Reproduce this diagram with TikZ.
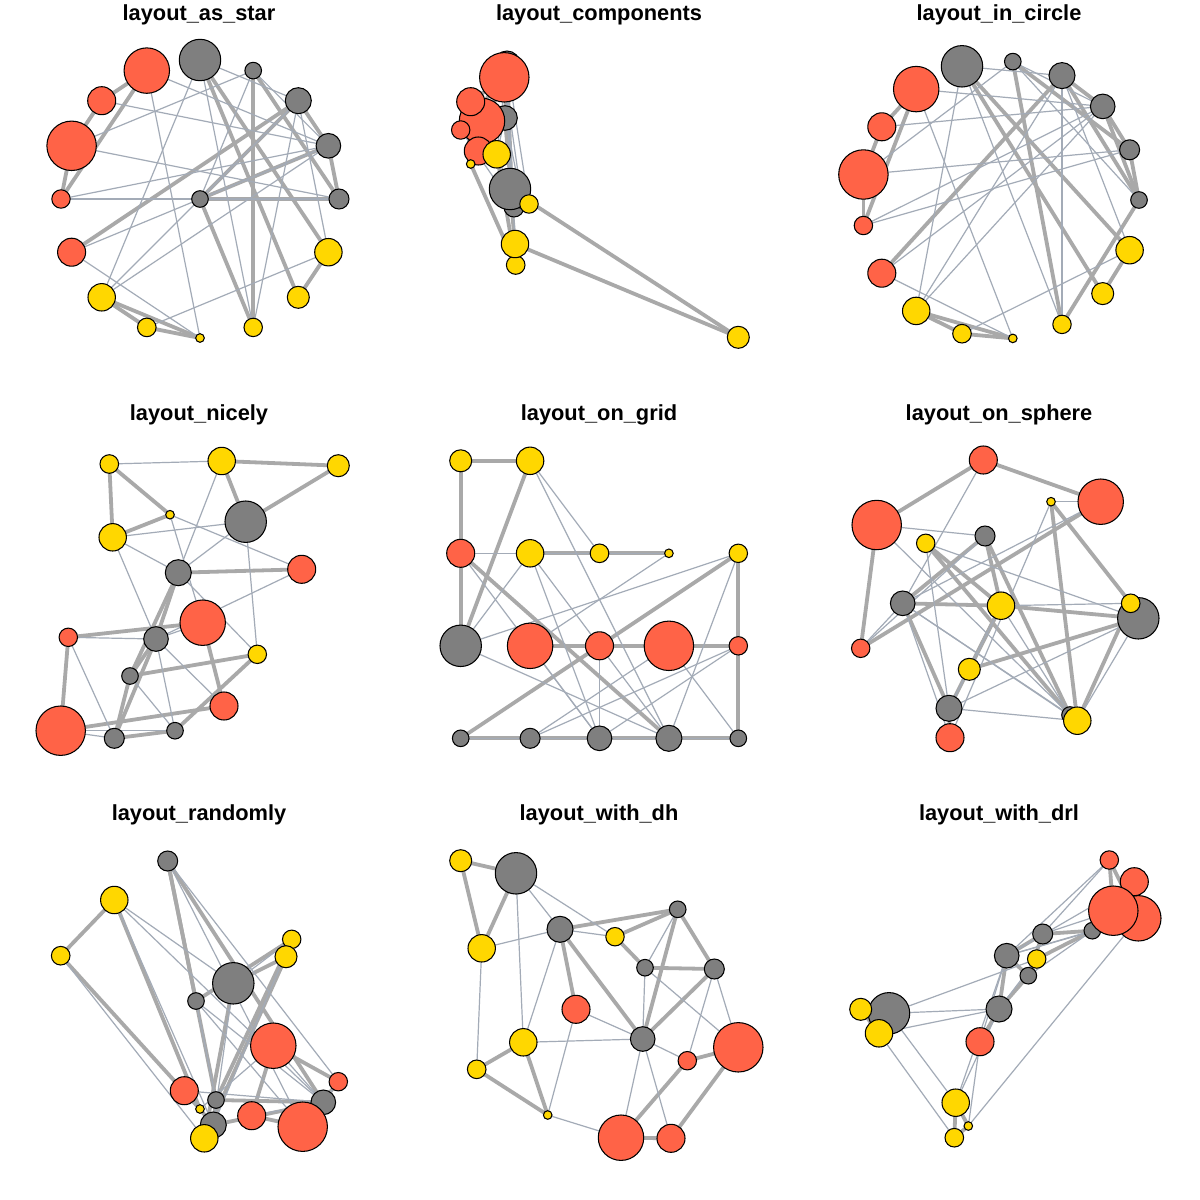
\documentclass[tikz,border=0pt]{standalone}
\usepackage{fontspec}
\setmainfont{Liberation Sans}
\definecolor{vred}{HTML}{FF6347}
\definecolor{vgold}{HTML}{FFD700}
\definecolor{vgray}{HTML}{7F7F7F}
\definecolor{ethickc}{HTML}{A9A9A9}
\definecolor{ethinc}{HTML}{A3ABB7}
\pgfdeclarelayer{bglayer}
\pgfdeclarelayer{edgelayer}
\pgfsetlayers{bglayer,edgelayer,main}
\tikzset{
 vtx/.style={circle,draw=black,line width=0.3pt,inner sep=0pt,outer sep=0pt},
 vx1/.style={vtx,fill=vgray,minimum size=1.66mm},
 vx2/.style={vtx,fill=vgray,minimum size=2.0mm},
 vx3/.style={vtx,fill=vgray,minimum size=2.46mm},
 vx4/.style={vtx,fill=vgray,minimum size=2.6mm},
 vx5/.style={vtx,fill=vgray,minimum size=1.66mm},
 vx6/.style={vtx,fill=vgray,minimum size=4.14mm},
 vx7/.style={vtx,fill=vred,minimum size=4.54mm},
 vx8/.style={vtx,fill=vred,minimum size=2.8mm},
 vx9/.style={vtx,fill=vred,minimum size=4.94mm},
 vx10/.style={vtx,fill=vred,minimum size=1.84mm},
 vx11/.style={vtx,fill=vred,minimum size=2.8mm},
 vx12/.style={vtx,fill=vgold,minimum size=2.74mm},
 vx13/.style={vtx,fill=vgold,minimum size=1.86mm},
 vx14/.style={vtx,fill=vgold,minimum size=0.86mm},
 vx15/.style={vtx,fill=vgold,minimum size=1.84mm},
 vx16/.style={vtx,fill=vgold,minimum size=2.2mm},
 vx17/.style={vtx,fill=vgold,minimum size=2.74mm},
 ethk/.style={draw=ethickc,line width=0.38mm},
 ethn/.style={draw=ethinc,line width=0.12mm},
 ttl/.style={anchor=base,inner sep=0pt,font=\fontsize{6.2pt}{7.5pt}\selectfont\bfseries}
}
\newcommand\pnl[2]{\foreach \x/\y [count=\k] in {#2}{\edef\pnltmp{\noexpand\node[vx\k] (#1\k) at (\x,\y) {};}\pnltmp}}
\begin{document}
\begin{tikzpicture}[x=0.01cm,y=-0.01cm]
\begin{pgfonlayer}{bglayer}
\fill[white] (0,0) rectangle (1200,1200);
\end{pgfonlayer}
\useasboundingbox (0,0) rectangle (1200,1200);
% titles
\node[ttl] (ta) at (199,20) {layout\_as\_star};
\node[ttl] (tb) at (599,20) {layout\_components};
\node[ttl] (tc) at (999,20) {layout\_in\_circle};
\node[ttl] (td) at (199,420) {layout\_nicely};
\node[ttl] (te) at (599,420) {layout\_on\_grid};
\node[ttl] (tf) at (999,420) {layout\_on\_sphere};
\node[ttl] (tg) at (199,820) {layout\_randomly};
\node[ttl] (th) at (599,820) {layout\_with\_dh};
\node[ttl] (ti) at (999,820) {layout\_with\_drl};
% panels
\pnl{a}{200/199, 339/199, 328.4/145.8, 298.3/100.7, 253.2/70.6, 200/60, 146.8/70.6, 101.7/100.7, 71.6/145.8, 61/199, 71.6/252.2, 101.7/297.3, 146.8/327.4, 200/338, 253.2/327.4, 298.3/297.3, 328.4/252.2}
\pnl{b}{512/200, 514/207, 505/118, 507/64, 522/200, 510/189, 482/121, 470.7/101.7, 504.3/77.3, 460.7/130, 478.3/151, 496.7/154.3, 515.7/265, 470.7/164, 529/204, 738.3/337.3, 515/244}
\pnl{c}{1139/200, 1129.6/149.8, 1102.7/106.4, 1062/75.6, 1012.8/61.6, 962/66.3, 916.2/89.1, 881.8/126.8, 863.4/174.5, 863.4/225.5, 881.8/273.2, 916.2/310.9, 962/333.7, 1012.8/338.4, 1062/324.4, 1102.7/293.6, 1129.6/250.2}
\pnl{d}{130/676, 114.3/738.3, 156/639, 178.3/572.7, 175/730.7, 245.7/521.7, 202.7/622.7, 224/706, 60.7/730.7, 68.3/637.3, 301.7/569.3, 112.7/537.3, 109.3/464, 170/514.7, 257.3/654.3, 338.3/465.7, 221.7/461}
\pnl{e}{460.7/738.3, 530.1/738.3, 599.5/738.3, 668.9/738.3, 738.3/738.3, 460.7/645.8, 530.1/645.8, 599.5/645.8, 668.9/645.8, 738.3/645.8, 460.7/553.3, 530.1/553.3, 599.5/553.3, 668.9/553.3, 738.3/553.3, 460.7/460.8, 530.1/460.8}
\pnl{f}{1001/605.7, 985/536, 902.7/603.3, 949/708.3, 1070/715, 1138.3/618.3, 1100.7/501.7, 983.3/460, 876.7/525, 860.7/648.3, 950/737.7, 1077.3/720.7, 1130.7/603.3, 1051/501.7, 925.7/543.3, 969.3/669.3, 1001/605.7}
\pnl{g}{216/1100, 167.7/861, 323.3/1102.3, 213.3/1125, 196/1001, 233.3/983.3, 273.3/1045.7, 251.7/1115.7, 302.7/1126.7, 338.3/1081.7, 184.3/1090.7, 114.3/900, 60.7/955.7, 200/1109, 291.7/939.3, 286/956.7, 204.3/1138.3}
\pnl{h}{677.7/909.3, 714.3/969, 642.7/1039, 560/929.3, 645/967.7, 516/873.3, 621/1137.7, 671/1138.3, 738.3/1047.3, 687.3/1060.7, 576/1009.3, 523.3/1042.3, 476.7/1069.3, 547.7/1115, 615/936.7, 460.7/860.7, 481.7/948.3}
\pnl{i}{1028.3/975.7, 1042.7/934, 1006.7/955.7, 999/1009, 1092.3/930.7, 889/1013.3, 1138.3/918.3, 1134.3/881.7, 1113.3/910.7, 1109.3/860, 980/1041.7, 955.7/1102.7, 954.3/1137.7, 968.3/1126, 1036.7/959, 860.7/1009.3, 879/1033.3}
% edges
\begin{pgfonlayer}{edgelayer}
\foreach \p in {a,b,c,d,e,f,g,h,i}{
 \foreach \u/\v in {16/6,16/17,6/17,4/1,4/11,4/3,15/1,15/5,1/2,1/3,5/2,2/3,12/13,12/14,13/14,10/9,10/7,9/8,7/8}
  \draw[ethk] (\p\u.center) -- (\p\v.center);
 \foreach \u/\v in {6/12,6/15,6/4,17/4,17/13,4/15,4/12,1/5,5/3,5/9,2/10,2/9,11/3,11/14,12/3,14/7,3/7,3/8,3/10}
  \draw[ethn] (\p\u.center) -- (\p\v.center);
}
\end{pgfonlayer}
\end{tikzpicture}
\end{document}
